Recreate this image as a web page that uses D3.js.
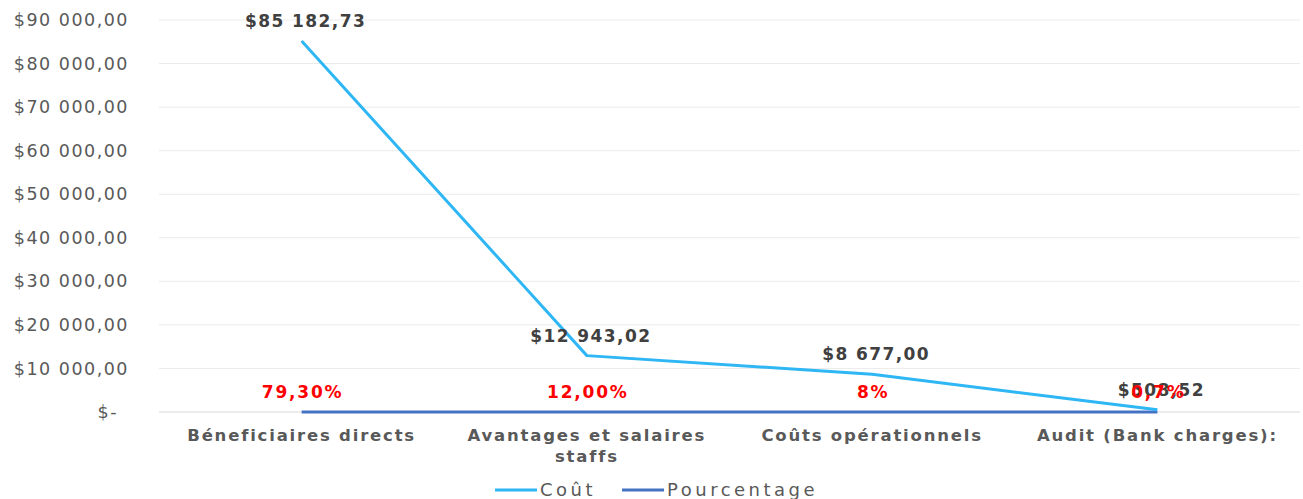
<!DOCTYPE html>
<meta charset="utf-8">
<script src="https://d3js.org/d3.v7.min.js"></script>
<style>
  body { margin: 0; background: #fff; }
  text { font-family: "DejaVu Sans", sans-serif; }
</style>
<div id="my_dataviz"></div>
<script>
  // data
  const categories = ["Béneficiaires directs", "Avantages et salaires staffs", "Coûts opérationnels", "Audit (Bank charges):"];
  const cout = [85182.73, 12943.02, 8677.00, 508.52];
  const pourcentage = [0.793, 0.12, 0.08, 0.007];
  const coutLabels = ["$85 182,73", "$12 943,02", "$8 677,00", "$508,52"];
  const pctLabels = ["79,30%", "12,00%", "8%", "0,7%"];
  const yTicks = [0, 10000, 20000, 30000, 40000, 50000, 60000, 70000, 80000, 90000];

  const W = 1303, H = 499;
  const margin = {top: 20, right: 3, bottom: 87, left: 159};
  const width = W - margin.left - margin.right,
        height = H - margin.top - margin.bottom;

  const svg = d3.select("#my_dataviz")
    .append("svg")
      .attr("width", W)
      .attr("height", H)
    .append("g")
      .attr("transform", `translate(${margin.left},${margin.top})`);

  const x = d3.scaleBand()
    .domain(categories)
    .range([0, width]);

  const y = d3.scaleLinear()
    .domain([0, 90000])
    .range([height, 0]);

  const fmt = v => v === 0 ? "$-" : "$" + d3.format(",.2f")(v).replace(/,/g, " ").replace(".", ",");

  // gridlines
  svg.append("g")
    .selectAll("line")
    .data(yTicks)
    .join("line")
      .attr("x1", 0).attr("x2", width)
      .attr("y1", d => y(d)).attr("y2", d => y(d))
      .attr("stroke", d => d === 0 ? "#d9d9d9" : "#ebebeb")
      .attr("stroke-width", 1);

  // y axis
  const yAxis = svg.append("g")
    .call(d3.axisLeft(y).tickValues(yTicks).tickFormat(fmt).tickSize(0).tickPadding(30));
  yAxis.select(".domain").remove();
  yAxis.selectAll("text")
    .attr("fill", "#595959")
    .style("font-size", "17.5px")
    .style("letter-spacing", "1.5px")
    .attr("dx", d => d === 0 ? -11 : 0);

  // x axis
  const xAxis = svg.append("g")
    .attr("transform", `translate(0,${height})`)
    .call(d3.axisBottom(x).tickSize(0).tickPadding(17));
  xAxis.select(".domain").remove();
  xAxis.selectAll("text")
    .attr("fill", "#595959")
    .style("font-size", "16.5px")
    .style("font-weight", "bold")
    .style("letter-spacing", "1.8px")
    .each(function(d) {
      if (d === "Avantages et salaires staffs") {
        const t = d3.select(this);
        t.text(null);
        t.append("tspan").attr("x", 0).text("Avantages et salaires");
        t.append("tspan").attr("x", 0).attr("dy", "1.3em").text("staffs");
      }
    });

  const cx = d => x(d) + x.bandwidth() / 2;

  const line = d3.line()
    .x((d, i) => cx(categories[i]))
    .y(d => y(d));

  svg.append("path")
    .datum(pourcentage)
    .attr("fill", "none")
    .attr("stroke", "#4472c4")
    .attr("stroke-width", 3)
    .attr("d", line);

  svg.append("path")
    .datum(cout)
    .attr("fill", "none")
    .attr("stroke", "#2eb6f5")
    .attr("stroke-width", 3)
    .attr("stroke-linejoin", "round")
    .attr("d", line);

  // cost labels
  svg.append("g")
    .selectAll("text")
    .data(cout)
    .join("text")
      .attr("x", (d, i) => cx(categories[i]) + 4)
      .attr("y", d => y(d) - 14)
      .attr("text-anchor", "middle")
      .attr("fill", "#404040")
      .style("font-size", "17px")
      .style("font-weight", "bold")
      .style("letter-spacing", "1.4px")
      .text((d, i) => coutLabels[i]);

  // percent labels
  svg.append("g")
    .selectAll("text")
    .data(pourcentage)
    .join("text")
      .attr("x", (d, i) => cx(categories[i]) + 1)
      .attr("y", d => y(d) - 14)
      .attr("text-anchor", "middle")
      .attr("fill", "#ff0000")
      .style("font-size", "17px")
      .style("font-weight", "bold")
      .style("letter-spacing", "1.8px")
      .text((d, i) => pctLabels[i]);

  // legend
  const legend = [
    {name: "Coût", color: "#2eb6f5", x: 495},
    {name: "Pourcentage", color: "#4472c4", x: 622}
  ];
  const lg = d3.select("svg").append("g");
  legend.forEach(l => {
    lg.append("line")
      .attr("x1", l.x).attr("x2", l.x + 42)
      .attr("y1", 490).attr("y2", 490)
      .attr("stroke", l.color).attr("stroke-width", 3);
    lg.append("text")
      .attr("x", l.x + 45).attr("y", 496)
      .attr("fill", "#595959")
      .style("font-size", "18px")
      .style("letter-spacing", "3.5px")
      .text(l.name);
  });
</script>
